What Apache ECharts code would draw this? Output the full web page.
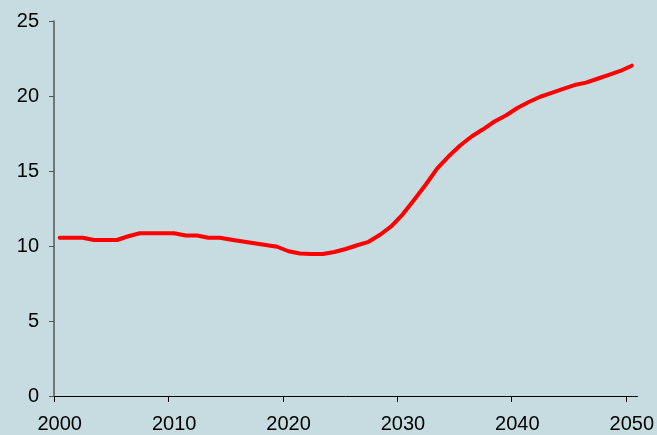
<!DOCTYPE html>
<html>
<head>
<meta charset="utf-8">
<script src="https://cdn.jsdelivr.net/npm/echarts@6/dist/echarts.min.js"></script>
<style>
html,body{margin:0;padding:0;background:#c6dce1;}
#chart{width:657px;height:435px;}
</style>
</head>
<body>
<div id="chart"></div>
<script>
var years = [];
for (var y = 2000; y <= 2050; y++) years.push(y);
var values = [
  10.55, 10.55, 10.55, 10.4, 10.4, 10.4, 10.65, 10.85, 10.85, 10.85,
  10.85, 10.7, 10.7, 10.55, 10.55, 10.42, 10.3, 10.18, 10.06, 9.95,
  9.65, 9.5, 9.47, 9.47, 9.6, 9.8, 10.05, 10.28, 10.75, 11.33,
  12.13, 13.1, 14.1, 15.18, 15.98, 16.7, 17.3, 17.78, 18.3, 18.7,
  19.2, 19.6, 19.95, 20.21, 20.47, 20.73, 20.89, 21.15, 21.41, 21.67,
  22.02
];
var xLabelValues = [2000, 2010, 2020, 2030, 2040, 2050];
var xTickValues = [1999.5, 2009.5, 2019.5, 2029.5, 2039.5, 2049.5];
var yTicks = [0, 5, 10, 15, 20, 25];

var chart = echarts.init(document.getElementById('chart'));
var font = '"Liberation Sans", Arial, sans-serif';
chart.setOption({
  backgroundColor: '#c6dce1',
  animation: false,
  grid: {left: 54, right: 19, top: 21, bottom: 39},
  xAxis: {
    type: 'value',
    min: 1999.5,
    max: 2050.5,
    splitLine: {show: false},
    axisLine: {show: true, lineStyle: {color: '#000', width: 1}},
    axisTick: {show: true, length: 6, customValues: xTickValues, lineStyle: {color: '#000', width: 1}},
    axisLabel: {
      customValues: xLabelValues, fontSize: 20, fontFamily: font, color: '#000', margin: 18,
      formatter: function (v) { return String(Math.round(v)); }
    }
  },
  yAxis: {
    type: 'value',
    min: yTicks[0],
    max: yTicks[yTicks.length - 1],
    interval: 5,
    splitLine: {show: false},
    axisLine: {show: true, lineStyle: {color: '#555', width: 1.5}},
    axisTick: {show: true, length: 5, lineStyle: {color: '#555'}},
    axisLabel: {fontSize: 20, fontFamily: font, color: '#000', margin: 15}
  },
  series: [{
    type: 'line',
    data: years.map(function (yr, i) { return [yr, values[i]]; }),
    symbol: 'none',
    lineStyle: {color: '#ff0000', width: 4, cap: 'round', join: 'round'}
  }]
});
</script>
</body>
</html>
